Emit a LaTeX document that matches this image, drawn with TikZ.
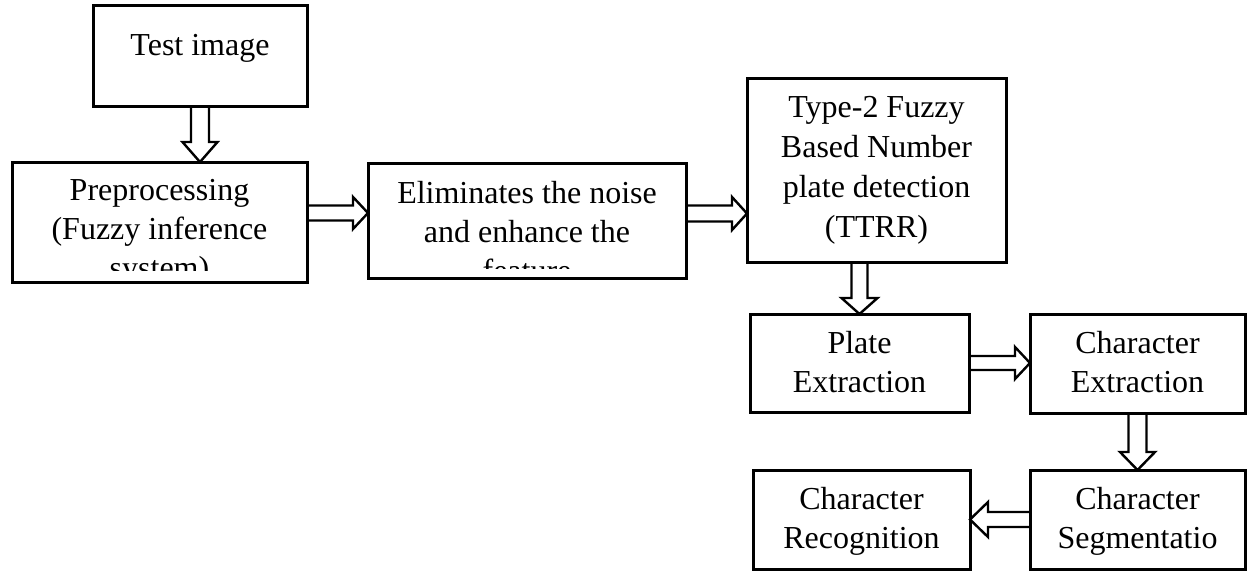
\documentclass[tikz,border=0pt]{standalone}
\usepackage{fontspec}
\setmainfont{Liberation Serif}
\usetikzlibrary{calc}
\tikzset{
  box/.style={draw, line width=3pt, inner sep=0pt, outer sep=0pt},
  txt/.style={align=center, anchor=base, inner sep=0pt, font=\fontsize{32}{39}\selectfont},
  barrow/.style={draw, line width=2.4pt, line join=miter},
}
\newcommand\blockarrow[5]{%
  \coordinate (ba-h) at ($(#2)!#5!(#1)$);
  \draw[barrow] ($(#1)!#3!90:(#2)$) -- ($(ba-h)!#3!90:(#2)$) -- ($(ba-h)!#4!90:(#2)$) -- (#2)
     -- ($(ba-h)!#4!-90:(#2)$) -- ($(ba-h)!#3!-90:(#2)$) -- ($(#1)!#3!-90:(#2)$);
}
\begin{document}
\begin{tikzpicture}[x=1pt,y=-1pt]
\useasboundingbox[fill=white] (0,0) rectangle (1247,571);
% boxes
\node[box, minimum width=214pt, minimum height=101pt] (test) at (200,55.5) {};
\node[box, minimum width=295pt, minimum height=120pt] (pre) at (159.5,222) {};
\node[box, minimum width=318pt, minimum height=115pt] (elim) at (527,220.5) {};
\node[box, minimum width=259pt, minimum height=184pt] (type2) at (876.5,170) {};
\node[box, minimum width=219pt, minimum height=98pt] (plate) at (859.5,363) {};
\node[box, minimum width=215pt, minimum height=99pt] (cext) at (1137.5,363.5) {};
\node[box, minimum width=215pt, minimum height=99pt] (cseg) at (1137.5,519.5) {};
\node[box, minimum width=217pt, minimum height=99pt] (crec) at (861.5,519.5) {};
% texts (anchor base = baseline of the last line)
\node[txt] (test-t) at (200,55) {Test image};
\begin{scope}
  \clip (12,162) rectangle (307,270);
  \node[txt] (pre-t) at (159.5,278) {Preprocessing\\(Fuzzy inference\\system)};
\end{scope}
\begin{scope}
  \clip (368,163) rectangle (686,268);
  \node[txt] (elim-t) at (527,281) {Eliminates the noise\\and enhance the\\feature};
\end{scope}
\node[txt, font=\fontsize{32}{40}\selectfont] (type2-t) at (876.5,237) {Type-2 Fuzzy\\Based Number\\plate detection\\(TTRR)};
\node[txt] (plate-t) at (859.5,392) {Plate\\Extraction};
\node[txt] (cext-t) at (1137.5,392) {Character\\Extraction};
\node[txt] (cseg-t) at (1137.5,548) {Character\\Segmentatio};
\node[txt] (crec-t) at (861.5,548) {Character\\Recognition};
% arrows
\coordinate (a1s) at (test.south);
\coordinate (a1t) at (test.south |- pre.north);
\blockarrow{a1s}{a1t}{9pt}{17.5pt}{20pt}
\coordinate (a2s) at ($(pre.east)+(0,-9)$);
\coordinate (a2t) at (elim.west |- a2s);
\blockarrow{a2s}{a2t}{7.5pt}{16pt}{15pt}
\coordinate (a3s) at ($(elim.east)+(0,-7)$);
\coordinate (a3t) at (type2.west |- a3s);
\blockarrow{a3s}{a3t}{8pt}{16.5pt}{15pt}
\coordinate (a4s) at (plate.north |- type2.south);
\coordinate (a4t) at (plate.north);
\blockarrow{a4s}{a4t}{8pt}{18pt}{16pt}
\coordinate (a5s) at (plate.east);
\coordinate (a5t) at (cext.west |- plate.east);
\blockarrow{a5s}{a5t}{7pt}{16pt}{15pt}
\coordinate (a6s) at (cext.south);
\coordinate (a6t) at (cseg.north);
\blockarrow{a6s}{a6t}{9pt}{17.5pt}{18pt}
\coordinate (a7s) at (cseg.west);
\coordinate (a7t) at (crec.east);
\blockarrow{a7s}{a7t}{7.5pt}{17.5pt}{18pt}
\end{tikzpicture}
\end{document}
